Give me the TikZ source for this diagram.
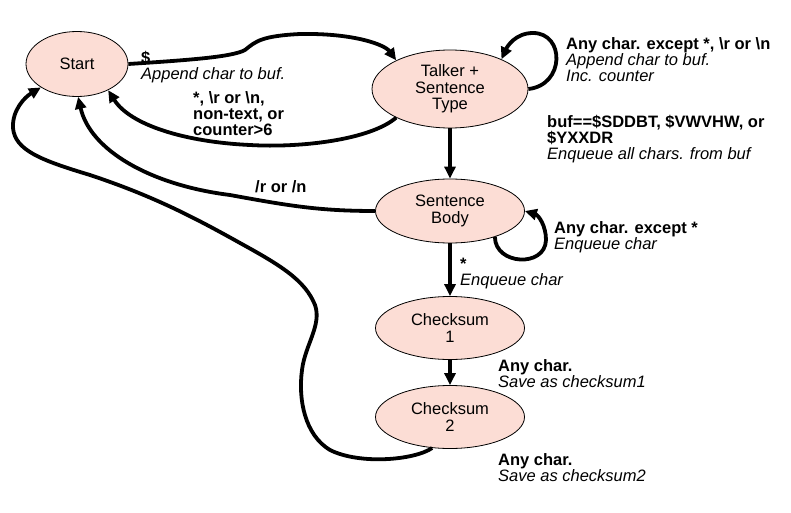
\documentclass[tikz,border=0pt]{standalone}
\usepackage{fontspec}
\setmainfont{Liberation Sans}
\usetikzlibrary{shapes.geometric,arrows.meta}
\definecolor{statefill}{RGB}{252,221,213}
\tikzset{
  state/.style={ellipse, draw=black, line width=0.8pt, fill=statefill, inner sep=0pt, align=center, font=\fontsize{16.5}{16.5}\selectfont},
  trans/.style={line width=3.8pt, -{Triangle[length=12pt,width=11pt]}},
  lbl/.style={anchor=north west, inner sep=0pt, align=left, font=\fontsize{16.5}{16}\selectfont},
}
\begin{document}
\begin{tikzpicture}[x=1pt,y=-1pt]
\useasboundingbox (0,0) rectangle (791,513);
\node[state, minimum width=102pt, minimum height=65pt] (start) at (77,64) {Start};
\node[state, minimum width=156pt, minimum height=78pt] (talker) at (450,89) {Talker +\\Sentence\\Type};
\node[state, minimum width=149pt, minimum height=64pt] (body) at (450,211) {Sentence\\Body};
\node[state, minimum width=149pt, minimum height=63pt] (cs1) at (450,328) {Checksum\\1};
\node[state, minimum width=149pt, minimum height=63pt] (cs2) at (450,417) {Checksum\\2};

\node[lbl] (l1) at (141,51) {\textbf{\$}\\\textit{Append char to buf.}};
\node[lbl, font=\fontsize{16.5}{16}\selectfont\bfseries] (l2) at (193,91) {*, \textbackslash r or \textbackslash n,\\non-text, or\\counter>6};
\node[lbl] (l3) at (566,37) {\textbf{Any char. except *, \textbackslash r or \textbackslash n}\\\textit{Append char to buf.}\\\textit{Inc. counter}};
\node[lbl] (l4) at (547,115) {\textbf{buf==\$SDDBT, \$VWVHW, or}\\\textbf{\$YXXDR}\\\textit{Enqueue all chars. from buf}};
\node[lbl, font=\fontsize{16.5}{16}\selectfont\bfseries] (l5) at (255,180) {/r or /n};
\node[lbl] (l6) at (554,221) {\textbf{Any char. except *}\\\textit{Enqueue char}};
\node[lbl] (l7) at (460,258) {\textbf{*}\\\textit{Enqueue char}};
\node[lbl] (l8) at (498,359) {\textbf{Any char.}\\\textit{Save as checksum1}};
\node[lbl] (l9) at (498,453) {\textbf{Any char.}\\\textit{Save as checksum2}};

\draw[trans] (start.east) .. controls (190,60) and (232,57) .. (245,50) .. controls (256,41) and (262,36) .. (300,34) .. controls (355,33) and (385,45) .. (talker.152);
\draw[trans] (talker.208) .. controls (370,140) and (300,148) .. (250,145) .. controls (185,142) and (130,125) .. (start.-40);
\draw[trans] (talker.east) .. controls (565,85) and (565,33) .. (533,33) .. controls (515,33) and (507,47) .. (talker.30);
\draw[trans] (talker.south) -- (body.north);
\draw[trans] (body.west) .. controls (320,211) and (290,206) .. (230,195) .. controls (150,185) and (90,150) .. (start.-88);
\draw[trans] (body.-30) .. controls (495,265) and (545,268) .. (546,240) .. controls (546,225) and (538,215) .. (body.east);
\draw[trans] (body.south) -- (cs1.north);
\draw[trans] (cs1.south) -- (cs2.north);
\draw[trans] (cs2.-120) .. controls (415,460) and (360,465) .. (330,450) .. controls (305,435) and (298,400) .. (302,370) .. controls (305,345) and (322,325) .. (315,305) .. controls (305,280) and (280,265) .. (240,243) .. controls (190,215) and (150,195) .. (90,175) .. controls (40,160) and (15,150) .. (13,128) .. controls (12,110) and (25,97) .. (start.-147);
\end{tikzpicture}
\end{document}
